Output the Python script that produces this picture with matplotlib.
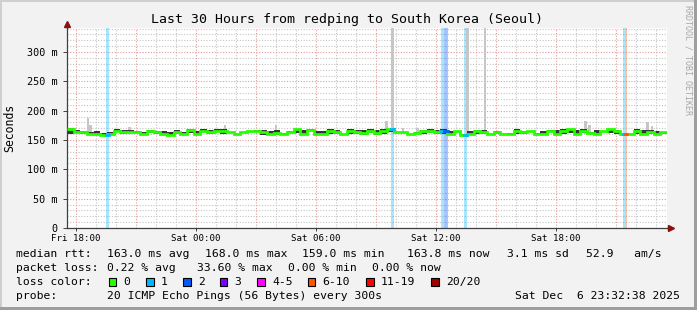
import numpy as np
import pandas as pd
import matplotlib
matplotlib.use('Agg')
import matplotlib.pyplot as plt
import matplotlib.dates as mdates
from matplotlib.patches import Rectangle

# 数据: 20 分钟一格的 median rtt (ms)
start = pd.Timestamp('2025-12-05 17:32:38')
step_min = 20
median = [168, 164, 163, 160, 161, 159, 161, 166, 163, 164, 164, 161, 165, 163, 161, 159, 163, 160, 167, 160, 166, 163, 166,
          165, 163, 160, 163, 165, 166, 164, 160, 162, 161, 164, 168, 161, 167, 161, 160, 166, 164, 160, 165, 164, 162, 166, 162,
          165, 168, 163, 163, 160, 162, 165, 166, 164, 165, 160, 165, 159, 161, 165, 164, 160, 163, 160, 161, 165,
          163, 165, 161, 160, 166, 161, 165, 168, 160, 166, 162, 161, 165, 168, 165, 160, 160, 165, 161, 164, 161, 163]
smoke_hi = [170, 167, 165, 163, 166, 162, 163, 169, 167, 167, 166, 164, 167, 166, 166, 163, 167, 164, 169, 165, 168, 167, 168,
            169, 164, 161, 164, 166, 167, 167, 166, 167, 162, 165, 169, 167, 168, 166, 165, 168, 167, 161, 168, 167, 167, 168, 167,
            168, 169, 164, 164, 161, 164, 167, 168, 167, 168, 166, 166, 160, 166, 167, 167, 161, 166, 161, 162, 168,
            166, 166, 162, 166, 167, 167, 168, 169, 167, 168, 164, 167, 166, 169, 167, 161, 161, 168, 167, 167, 166, 164]
smoke_lo = [160, 162, 161, 158, 159, 158, 159, 163, 160, 162, 162, 159, 162, 161, 159, 158, 161, 158, 162, 158, 163, 161, 163,
            160, 162, 159, 162, 164, 165, 159, 158, 159, 160, 163, 162, 158, 166, 158, 158, 161, 160, 158, 161, 160, 159, 162, 159,
            161, 163, 162, 162, 159, 161, 161, 162, 160, 161, 158, 164, 158, 159, 161, 160, 159, 160, 159, 160, 161,
            160, 164, 160, 158, 165, 159, 161, 162, 158, 162, 160, 159, 164, 162, 161, 159, 159, 161, 159, 160, 159, 160]

# 高延迟的烟雾尖峰 (时间, 最大值 ms)
spike_times = ['2025-12-05 18:36', '2025-12-05 18:43', '2025-12-05 20:40', '2025-12-06 01:26', '2025-12-06 03:59',
               '2025-12-06 09:31', '2025-12-06 09:49', '2025-12-06 10:21', '2025-12-06 11:04', '2025-12-06 13:34',
               '2025-12-06 14:27', '2025-12-06 19:28', '2025-12-06 19:40', '2025-12-06 20:38', '2025-12-06 22:34',
               '2025-12-06 22:48']
spike_max = [188, 175, 172, 175, 175, 183, 360, 171, 171, 360, 360, 183, 175, 171, 181, 174]

# 丢包 (开始时间, 持续分钟, 丢包数)
loss_times = ['2025-12-05 19:30', '2025-12-06 09:45', '2025-12-06 12:15', '2025-12-06 12:25', '2025-12-06 13:25',
              '2025-12-06 21:22', '2025-12-06 21:28']
loss_minutes = [9, 9, 10, 10, 9, 6, 5]
loss_count = [1, 1, 1, 2, 1, 1, 7]

loss_labels = ['0', '1', '2', '3', '4-5', '6-10', '11-19', '20/20']
loss_colors = ['#26ff00', '#00b8ff', '#0059ff', '#7e00ff', '#ff00ff', '#ff5500', '#ff0000', '#a10000']


def loss_color(n):
    if n == 0:
        return loss_colors[0]
    if n <= 3:
        return loss_colors[n]
    if n <= 5:
        return loss_colors[4]
    if n <= 10:
        return loss_colors[5]
    if n < 20:
        return loss_colors[6]
    return loss_colors[7]


W, H = 697, 310
fig = plt.figure(figsize=(W / 100, H / 100), dpi=100, facecolor='#f2f2f2')
ax = fig.add_axes([67 / W, 82 / H, 600 / W, 200 / H], facecolor='white')

t0 = mdates.date2num(start)
edges = t0 + np.arange(len(median) + 1) * step_min / 1440.0
t_end = t0 + 30 / 24.0

# 网格
for v in range(0, 341, 10):
    if v % 50 == 0:
        ax.axhline(v, color='#e49a9a', lw=0.8, ls=(0, (1, 1.5)), zorder=0.6)
    else:
        ax.axhline(v, color='#c4c4c4', lw=0.8, ls=(0, (1, 1.5)), zorder=0.5)
h = mdates.date2num(start.ceil('h'))
while h < t_end:
    hr = int(round((h - np.floor(h)) * 24)) % 24
    if hr % 3 == 0:
        ax.axvline(h, color='#e49a9a', lw=0.8, ls=(0, (1, 1.5)), zorder=0.6)
    else:
        ax.axvline(h, color='#c4c4c4', lw=0.8, ls=(0, (1, 1.5)), zorder=0.5)
    h += 1 / 24.0

# 丢包竖条
for t, m, n in zip(loss_times, loss_minutes, loss_count):
    ts = mdates.date2num(pd.Timestamp(t))
    ax.axvspan(ts, ts + m / 1440.0, color=loss_color(n), alpha=0.35, lw=0, zorder=1)

# 烟雾尖峰
st = mdates.date2num(pd.to_datetime(spike_times))
ax.bar(st, np.array(spike_max) - 160, bottom=160, width=7 / 1440.0, color='#c6c6c6', lw=0, zorder=1.5)

# 烟雾
ax.stairs(smoke_hi, edges, baseline=smoke_lo, fill=True, color='#363636', lw=0, zorder=2)
# median 线
ax.stairs(median, edges, baseline=None, color=loss_colors[0], lw=2.0, zorder=3)
for t, m, n in zip(loss_times, loss_minutes, loss_count):
    ts = mdates.date2num(pd.Timestamp(t))
    k = int((ts - t0) * 1440 // step_min)
    ax.plot([ts, ts + m / 1440.0], [median[k], median[k]], color=loss_color(n), lw=2.0, zorder=3.5)

ax.set_xlim(t0, t_end)
ax.set_ylim(0, 341)

mono = 'DejaVu Sans Mono'
ax.set_yticks(range(0, 301, 50))
ax.set_yticklabels(['0'] + ['%d m' % v for v in range(50, 301, 50)], family=mono, fontsize=7.3)
ax.xaxis.set_major_locator(mdates.HourLocator(byhour=range(0, 24, 6)))
ax.xaxis.set_major_formatter(mdates.DateFormatter('%a %H:%M'))
for lab in ax.get_xticklabels():
    lab.set_family(mono)
    lab.set_fontsize(6.6)
ax.tick_params(axis='y', length=3, width=0.7, color='#404040', pad=4)
ax.tick_params(axis='x', length=2, width=0.7, color='#404040', pad=2)
for s in ['top', 'right']:
    ax.spines[s].set_visible(False)
for s in ['left', 'bottom']:
    ax.spines[s].set_color('#404040')
    ax.spines[s].set_linewidth(0.9)
ax.plot([0, 0], [1, 1.02], transform=ax.transAxes, color='#404040', lw=0.9, clip_on=False)
ax.plot([1, 1.005], [0, 0], transform=ax.transAxes, color='#404040', lw=0.9, clip_on=False)
ax.plot([0], [1.02], marker='^', ms=4.5, color='#8b1010', transform=ax.transAxes, clip_on=False)
ax.plot([1.0067], [0], marker='>', ms=4.5, color='#8b1010', transform=ax.transAxes, clip_on=False)


def px(x, y):
    return x / W, 1 - y / H


fig.text(*px(347, 19), 'Last 30 Hours from redping to South Korea (Seoul)', family=mono, fontsize=9.5,
         ha='center', va='center')
fig.text(*px(10, 128), 'Seconds', family=mono, fontsize=8.3, rotation=90, ha='center', va='center')
fig.text(*px(688, 5), 'RRDTOOL / TOBI OETIKER', family=mono, fontsize=6, rotation=270, ha='center', va='top',
         color='#a8a8a8')

fs = 8.2
rows = [
    (254, [(16, 'median rtt:'), (107, '163.0 ms avg'), (205, '168.0 ms max'), (302, '159.0 ms min'),
           (407, '163.8 ms now'), (507, '3.1 ms sd'), (586, '52.9   am/s')]),
    (268, [(16, 'packet loss:'), (107, '0.22 % avg'), (197, '33.60 % max'), (288, '0.00 % min'),
           (372, '0.00 % now')]),
    (296, [(16, 'probe:'), (107, '20 ICMP Echo Pings (56 Bytes) every 300s')]),
]
for y, items in rows:
    for x, s in items:
        fig.text(*px(x, y), s, family=mono, fontsize=fs, ha='left', va='center')
fig.text(*px(680, 296), 'Sat Dec  6 23:32:38 2025', family=mono, fontsize=fs, ha='right', va='center')

fig.text(*px(16, 282), 'loss color:', family=mono, fontsize=fs, ha='left', va='center')
box_x = [108.5, 146, 183, 219.5, 257, 307.5, 366, 431]
for bx, lab, c in zip(box_x, loss_labels, loss_colors):
    fig.patches.append(Rectangle(px(bx, 286), 7.5 / W, 8 / H, transform=fig.transFigure, facecolor=c,
                                 edgecolor='black', lw=0.8))
    fig.text(*px(bx + 15, 282), lab, family=mono, fontsize=fs, ha='left', va='center')

# 边框
fig.patches.append(Rectangle((0, 1 - 2 / H), 1, 2 / H, transform=fig.transFigure, color='#cfcfcf', lw=0))
fig.patches.append(Rectangle((0, 0), 2 / W, 1, transform=fig.transFigure, color='#cfcfcf', lw=0))
fig.patches.append(Rectangle((0, 0), 1, 3 / H, transform=fig.transFigure, color='#9e9e9e', lw=0))
fig.patches.append(Rectangle((1 - 3 / W, 0), 3 / W, 1, transform=fig.transFigure, color='#9e9e9e', lw=0))

fig.savefig('out.png', dpi=100, facecolor=fig.get_facecolor())
